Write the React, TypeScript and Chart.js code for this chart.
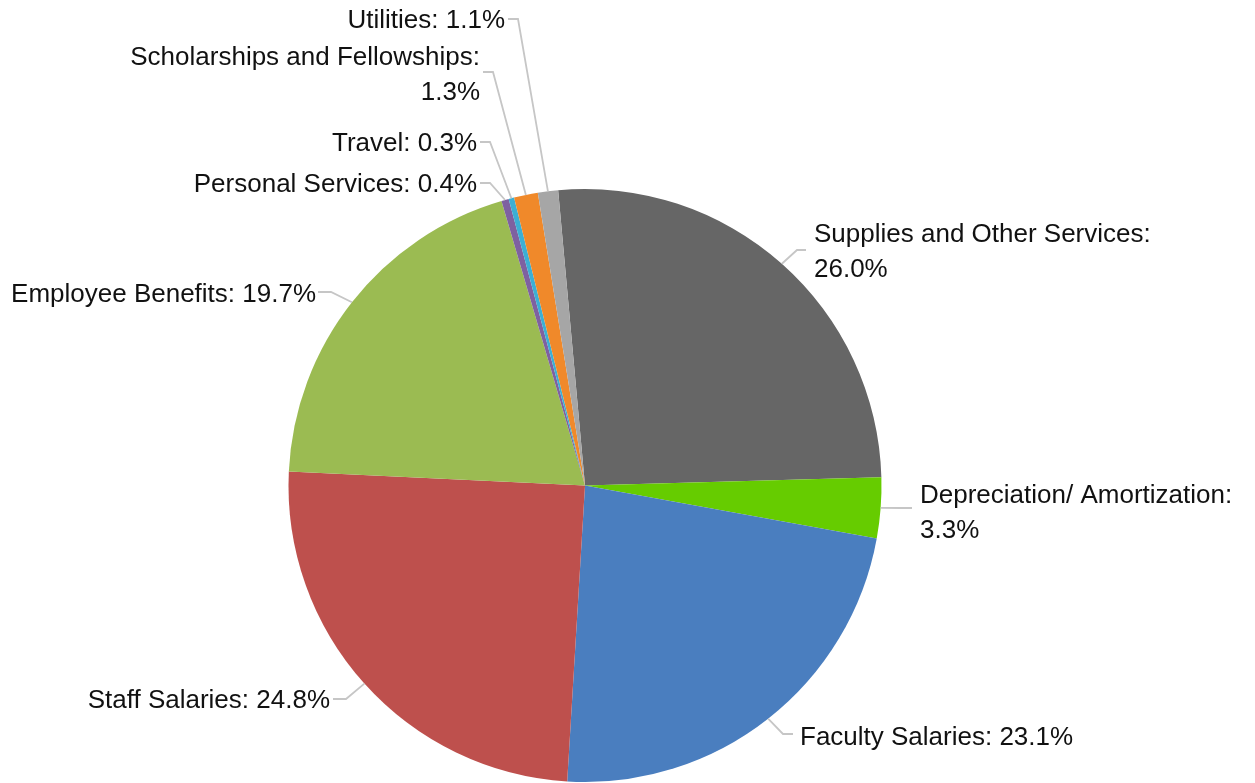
import React, { useEffect, useRef } from "react";
import { Chart, registerables } from "chart.js";

Chart.register(...registerables);

const categories = [
  "Supplies and Other Services",
  "Depreciation/ Amortization",
  "Faculty Salaries",
  "Staff Salaries",
  "Employee Benefits",
  "Personal Services",
  "Travel",
  "Scholarships and Fellowships",
  "Utilities",
];
const values = [26.0, 3.3, 23.1, 24.8, 19.7, 0.4, 0.3, 1.3, 1.1];
const colors = [
  "#666666",
  "#66CC00",
  "#4A7EBF",
  "#BE504D",
  "#9BBB52",
  "#7E61A0",
  "#3CAFD4",
  "#F0892A",
  "#A6A6A6",
];

// label placement (layout only): text anchor, alignment, elbow & end of leader line
const labelLayout = [
  { x: 814, y: 235, align: "left", wrap: true, elbow: [797, 250], end: [806, 250] },
  { x: 920, y: 496, align: "left", wrap: true, elbow: [900, 508], end: [912, 508] },
  { x: 800, y: 738, align: "left", wrap: false, elbow: [783, 734], end: [793, 734] },
  { x: 330, y: 701, align: "right", wrap: false, elbow: [346, 699], end: [333, 699] },
  { x: 316, y: 295, align: "right", wrap: false, elbow: [331, 292], end: [318, 292] },
  { x: 477, y: 185, align: "right", wrap: false, elbow: [490, 183], end: [480, 183] },
  { x: 477, y: 144, align: "right", wrap: false, elbow: [490, 142], end: [480, 142] },
  { x: 480, y: 58, align: "right", wrap: true, elbow: [493, 72], end: [483, 72] },
  { x: 505, y: 21, align: "right", wrap: false, elbow: [518, 19], end: [508, 19] },
];

const FONT = '26px "Liberation Sans", Arial, sans-serif';
const LINE_H = 35;

const labelPlugin = {
  id: "outsideLabels",
  afterDatasetsDraw(chart: any) {
    const ctx = chart.ctx;
    const meta = chart.getDatasetMeta(0);
    ctx.save();
    meta.data.forEach((arc: any, i: number) => {
      const p = arc.getProps(["x", "y", "startAngle", "endAngle", "outerRadius"], true);
      const mid = (p.startAngle + p.endAngle) / 2;
      const sx = p.x + Math.cos(mid) * p.outerRadius;
      const sy = p.y + Math.sin(mid) * p.outerRadius;
      const L = labelLayout[i];
      ctx.strokeStyle = "#C6C6C6";
      ctx.lineWidth = 1.8;
      ctx.beginPath();
      ctx.moveTo(sx, sy);
      ctx.lineTo(L.elbow[0], L.elbow[1]);
      ctx.lineTo(L.end[0], L.end[1]);
      ctx.stroke();

      const pct = values[i].toFixed(1) + "%";
      const lines = L.wrap
        ? [categories[i] + ":", pct]
        : [categories[i] + ": " + pct];
      ctx.font = FONT;
      ctx.fillStyle = "#111111";
      ctx.textAlign = L.align;
      ctx.textBaseline = "middle";
      lines.forEach((t: string, k: number) => {
        ctx.fillText(t, L.x, L.y + k * LINE_H);
      });
    });
    ctx.restore();
  },
};

export default function App() {
  const ref = useRef<HTMLCanvasElement | null>(null);
  useEffect(() => {
    document.body.style.margin = "0";
    const chart = new Chart(ref.current as HTMLCanvasElement, {
      type: "pie",
      data: {
        labels: categories,
        datasets: [
          {
            data: values,
            backgroundColor: colors,
            borderWidth: 0,
            hoverOffset: 0,
          },
        ],
      },
      options: {
        animation: false,
        responsive: true,
        maintainAspectRatio: false,
        rotation: -5.2,
        layout: { padding: { left: 288, right: 373, top: 189, bottom: 1 } },
        plugins: {
          legend: { display: false },
          tooltip: { enabled: false },
        },
      },
      plugins: [labelPlugin],
    } as any);
    return () => chart.destroy();
  }, []);
  return (
    <div style={{ width: 1255, height: 783, position: "relative", background: "#fff" }}>
      <canvas ref={ref} />
    </div>
  );
}
